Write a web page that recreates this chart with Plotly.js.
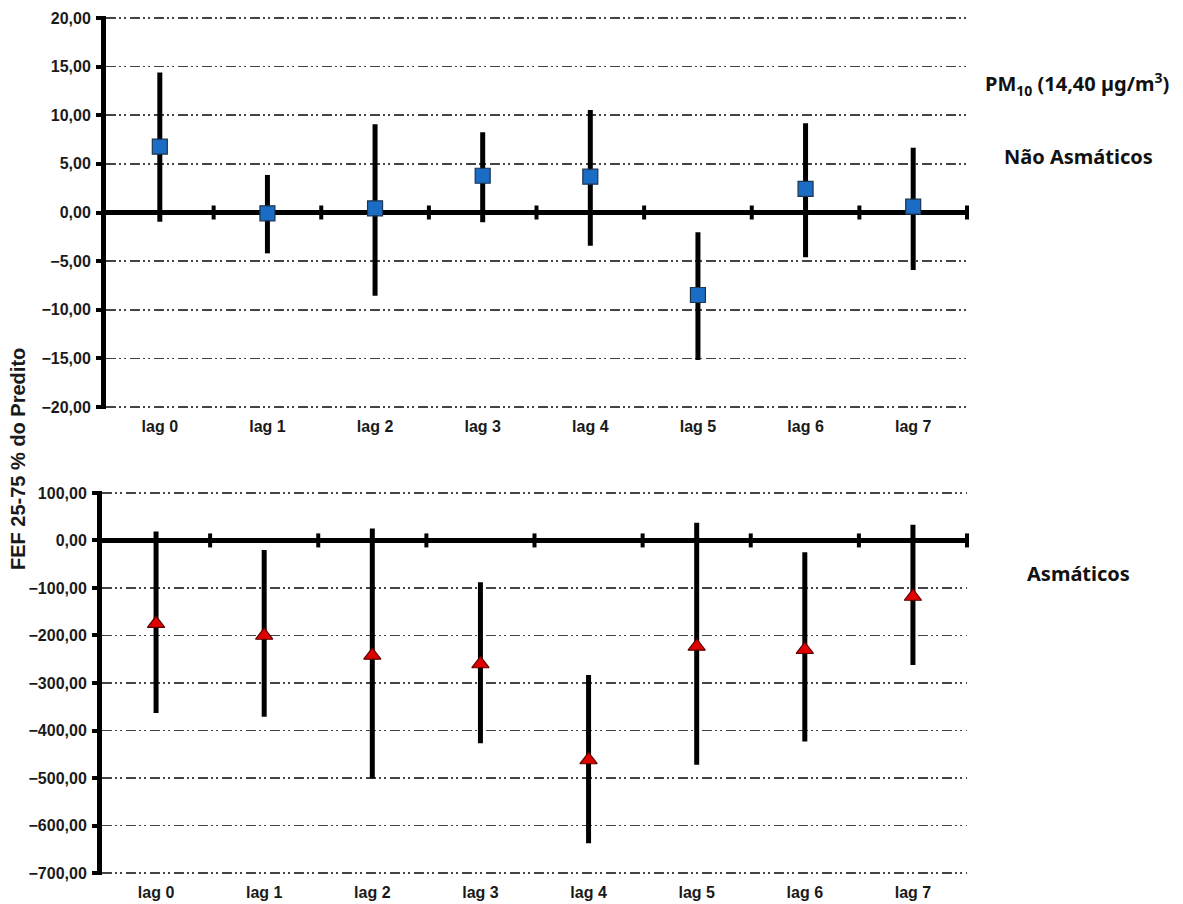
<!DOCTYPE html>
<html>
<head>
<meta charset="utf-8">
<script src="https://cdn.plot.ly/plotly-3.0.1.min.js"></script>
<style>
  html, body { margin: 0; padding: 0; background: #ffffff; }
  #chart { width: 1183px; height: 904px; }
</style>
</head>
<body>
<div id="chart"></div>
<script>
// Lag categories shared by both panels
const lags = ['lag 0', 'lag 1', 'lag 2', 'lag 3', 'lag 4', 'lag 5', 'lag 6', 'lag 7'];

// Não Asmáticos: estimate and 95% interval limits
const naoAsmMean  = [6.77, -0.08, 0.43, 3.78, 3.68, -8.48, 2.42, 0.60];
const naoAsmUpper = [14.38, 3.86, 9.07, 8.25, 10.54, -2.04, 9.17, 6.66];
const naoAsmLower = [-0.95, -4.20, -8.56, -1.00, -3.41, -15.17, -4.60, -5.91];

// Asmáticos: estimate and 95% interval limits
const asmMean  = [-175, -200, -242, -260, -462, -223, -230, -118];
const asmUpper = [19, -20, 25, -88, -283, 37, -25, 33];
const asmLower = [-363, -371, -501, -427, -637, -472, -423, -262];

// Y tick values for each panel
const topTicks = [20, 15, 10, 5, 0, -5, -10, -15, -20];
const bottomTicks = [100, 0, -100, -200, -300, -400, -500, -600, -700];

const idx = lags.map((_, i) => i);
const boundaries = lags.map((_, i) => i + 0.5);

const W = 1183, H = 904;
const tickFont = { family: 'Liberation Sans, Arial, sans-serif', size: 16, color: '#1a1a1a', weight: 'bold' };
const gridDash = '10px,3px,2px,3px,2px,4px';

function errTrace(mean, upper, lower, xa, ya, marker) {
  return {
    type: 'scatter', mode: 'markers',
    x: idx, y: mean, xaxis: xa, yaxis: ya,
    marker: marker,
    error_y: {
      type: 'data', symmetric: false,
      array: upper.map((u, i) => u - mean[i]),
      arrayminus: lower.map((l, i) => mean[i] - l),
      thickness: 5, width: 0, color: '#000000'
    },
    cliponaxis: false, showlegend: false, hoverinfo: 'x+y'
  };
}

function zeroTicks(xa, ya) {
  return {
    type: 'scatter', mode: 'markers',
    x: boundaries, y: boundaries.map(() => 0), xaxis: xa, yaxis: ya,
    marker: { symbol: 'line-ns-open', size: 10, color: '#000000', line: { width: 4, color: '#000000' } },
    cliponaxis: false, showlegend: false, hoverinfo: 'skip'
  };
}

const traces = [
  zeroTicks('x', 'y'),
  errTrace(naoAsmMean, naoAsmUpper, naoAsmLower, 'x', 'y', {
    symbol: 'square', size: 15, color: '#1b6cc4', line: { width: 1.2, color: '#1c3550' }
  }),
  zeroTicks('x2', 'y2'),
  errTrace(asmMean, asmUpper, asmLower, 'x2', 'y2', {
    symbol: 'triangle-up', size: 15, color: '#e00000', line: { width: 1.2, color: '#5a0000' }
  })
];

function xAxis(domain, anchor) {
  return {
    domain: domain, anchor: anchor, range: [-0.5, 7.5],
    tickmode: 'array', tickvals: idx, ticktext: lags,
    showgrid: false, zeroline: false, showline: false, ticks: '',
    ticklabelstandoff: 6,
    tickfont: tickFont, fixedrange: true
  };
}

// The range is padded a hair past the outer ticks so the end gridlines stay visible
function yAxis(domain, anchor, range, ticks) {
  return {
    domain: domain, anchor: anchor, range: range,
    tickmode: 'array', tickvals: ticks, tickformat: '.2f',
    showline: true, linewidth: 5, linecolor: '#000000',
    ticks: 'outside', ticklen: 5, tickwidth: 4, tickcolor: '#000000',
    ticklabelstandoff: 2,
    showgrid: true, gridcolor: '#444444', gridwidth: 1.5, griddash: gridDash,
    zeroline: true, zerolinecolor: '#000000', zerolinewidth: 5,
    tickfont: tickFont, fixedrange: true
  };
}

const labelFont = { family: 'Noto Sans, Open Sans, sans-serif', size: 20, color: '#111111', weight: 'bold' };

const layout = {
  width: W, height: H,
  margin: { l: 0, r: 0, t: 0, b: 0 },
  paper_bgcolor: '#ffffff', plot_bgcolor: '#ffffff',
  separators: ',.',
  showlegend: false,
  xaxis: xAxis([106 / W, 967 / W], 'y'),
  yaxis: yAxis([1 - 409 / H, 1 - 16 / H], 'x', [-20.2, 20.2], topTicks),
  xaxis2: xAxis([102 / W, 967 / W], 'y2'),
  yaxis2: yAxis([1 - 875 / H, 1 - 491 / H], 'x2', [-704, 104], bottomTicks),
  annotations: [
    {
      text: 'FEF 25-75 % do Predito', textangle: -90,
      xref: 'paper', yref: 'paper', x: 18 / W, y: 1 - 459 / H,
      showarrow: false, xanchor: 'center', yanchor: 'middle',
      font: { family: 'Liberation Sans, Arial, sans-serif', size: 20, color: '#1a1a1a', weight: 'bold' }
    },
    {
      text: 'PM<sub>10</sub> (14,40 µg/m<sup>3</sup>)',
      xref: 'paper', yref: 'paper', x: 1077 / W, y: 1 - 84 / H,
      showarrow: false, xanchor: 'center', yanchor: 'middle', font: labelFont
    },
    {
      text: 'Não Asmáticos',
      xref: 'paper', yref: 'paper', x: 1078 / W, y: 1 - 157 / H,
      showarrow: false, xanchor: 'center', yanchor: 'middle', font: labelFont
    },
    {
      text: 'Asmáticos',
      xref: 'paper', yref: 'paper', x: 1078 / W, y: 1 - 573 / H,
      showarrow: false, xanchor: 'center', yanchor: 'middle', font: labelFont
    }
  ]
};

Plotly.newPlot('chart', traces, layout, { staticPlot: true, displayModeBar: false });
</script>
</body>
</html>
